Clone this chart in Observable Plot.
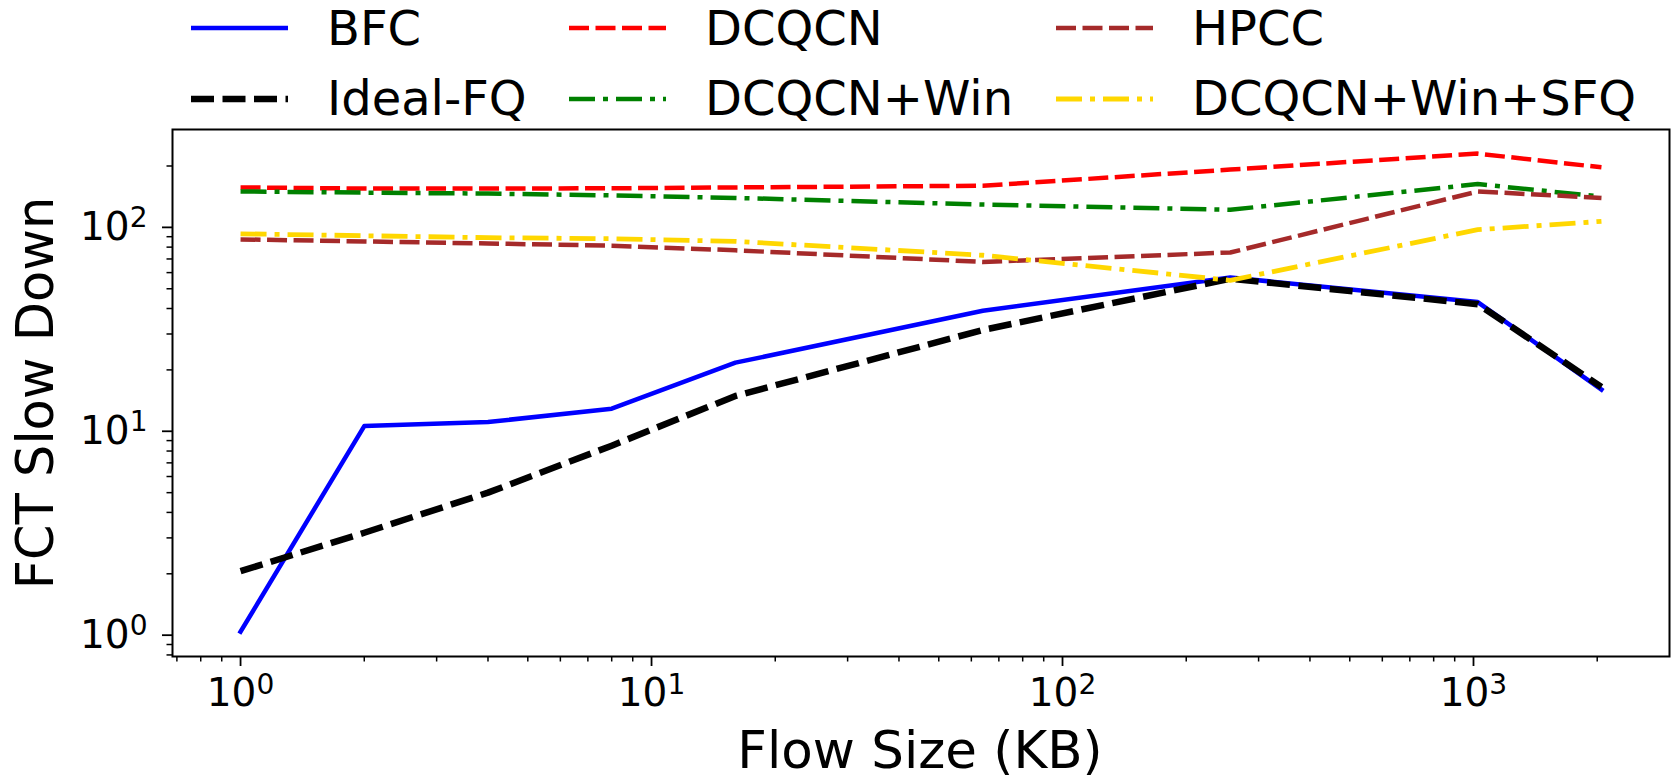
<!DOCTYPE html>
<html><head><meta charset="utf-8">
<script src="https://cdn.jsdelivr.net/npm/d3@7"></script>
<script src="https://cdn.jsdelivr.net/npm/@observablehq/plot@0.6"></script>
<style>
body{margin:0;background:#fff;font-family:"DejaVu Sans",sans-serif;}
#wrap{width:1675px;height:779px;position:relative;overflow:hidden;background:#fff}
#legend{height:127px}
#legend svg{display:block;overflow:visible}
#chart svg{display:block}
</style></head><body><div id="wrap"><div id="legend"></div><div id="chart"></div></div>
<script>
// ---- data ----
const flowSizes = [1, 2, 4, 8, 16, 64, 256, 1024, 2048];
const bfc         = [1.04, 10.6, 11.1, 12.9, 21.7, 39, 56.8, 43, 16];
const idealFQ     = [2.06, 3.18, 5.0, 8.5, 14.9, 31.4, 56, 42, 16.5];
const dcqcn       = [157, 155, 155, 155.5, 157, 160, 192, 230, 197];
const dcqcnWin    = [150, 148, 146.5, 143.5, 139.5, 129.5, 122, 163, 141.5];
const hpcc        = [87.3, 85.3, 83.4, 81.3, 77.2, 67.7, 75.3, 150, 139.5];
const dcqcnWinSfq = [93, 91, 89, 88, 85.4, 73, 55, 97.4, 107];

const seriesNames = ["BFC", "Ideal-FQ", "DCQCN", "DCQCN+Win", "HPCC", "DCQCN+Win+SFQ"];
const seriesValues = [bfc, idealFQ, dcqcn, dcqcnWin, hpcc, dcqcnWinSfq];

const xMajorTicks = [1, 10, 100, 1000];
const xTickLabels = ["10^0", "10^1", "10^2", "10^3"];
const xMinorTicks = [0.7, 0.8, 0.9, 2, 3, 4, 5, 6, 7, 8, 9, 20, 30, 40, 50, 60, 70, 80, 90,
                     200, 300, 400, 500, 600, 700, 800, 900, 2000];
const yMajorTicks = [1, 10, 100];
const yTickLabels = ["10^0", "10^1", "10^2"];
const yMinorTicks = [0.8, 0.9, 2, 3, 4, 5, 6, 7, 8, 9, 20, 30, 40, 50, 60, 70, 80, 90, 200];

const xLabel = "Flow Size (KB)";
const yLabel = "FCT Slow Down";

// ---- styles ----
const colors = ["#0000ff", "#000000", "#ff0000", "#008000", "#a52a2a", "#ffd700"];
const widths = [4.5, 6.5, 4.5, 4.5, 4.5, 4.8];
const dashes = [null, "23,8.5", "20,6.5", "26,8,5,8", "20,6.5", "26,8,5,8"];

const rows = seriesNames.flatMap((name, i) =>
  flowSizes.map((x, j) => ({series: name, x, y: seriesValues[i][j]})));

// ---- legend ----
const leg = d3.select("#legend").append("svg").attr("width", 1675).attr("height", 127);
const legCols = [191, 569, 1056];
const legRowsLine = [28, 99];
const legRowsText = [45, 115];
seriesNames.forEach((name, i) => {
  const col = Math.floor(i / 2), row = i % 2;
  const x0 = legCols[col];
  leg.append("line").attr("x1", x0).attr("x2", x0 + 97)
    .attr("y1", legRowsLine[row]).attr("y2", legRowsLine[row])
    .attr("stroke", colors[i]).attr("stroke-width", widths[i])
    .attr("stroke-dasharray", dashes[i]);
  leg.append("text").attr("x", x0 + 136).attr("y", legRowsText[row])
    .attr("font-family", "DejaVu Sans").attr("font-size", 48).attr("fill", "black")
    .text(name);
});

// ---- chart ----
const plot = Plot.plot({
  width: 1675, height: 652,
  marginTop: 2, marginLeft: 172, marginRight: 6, marginBottom: 123,
  style: {fontFamily: "DejaVu Sans", fontSize: "39px", color: "black", background: "white", overflow: "visible"},
  x: {type: "log", domain: [0.683, 2998.6]},
  y: {type: "log", domain: [0.786, 302]},
  marks: [
    ...seriesNames.map((name, i) => Plot.line(rows.filter(d => d.series === name), {
      x: "x", y: "y", stroke: colors[i], strokeWidth: widths[i],
      strokeDasharray: dashes[i] || undefined, strokeLinejoin: "round",
      strokeLinecap: i === 0 ? "square" : "butt"
    })),
    Plot.axisX(xMinorTicks, {tickSize: 5.5, strokeWidth: 1.5, tickFormat: () => "", label: null}),
    Plot.axisY(yMinorTicks, {tickSize: 5.5, strokeWidth: 1.5, tickFormat: () => "", label: null}),
    Plot.axisX(xMajorTicks, {tickSize: 10, tickPadding: 12, strokeWidth: 1.8, fontSize: 39,
      tickFormat: d => xTickLabels[xMajorTicks.indexOf(d)], label: null}),
    Plot.axisY(yMajorTicks, {tickSize: 10, tickPadding: 15, strokeWidth: 1.8, fontSize: 39,
      tickFormat: d => yTickLabels[yMajorTicks.indexOf(d)], label: null}),
    Plot.frame({stroke: "black", strokeWidth: 2})
  ]
});
document.getElementById("chart").appendChild(plot);

// superscripts for tick labels
d3.select(plot).selectAll("text").each(function() {
  const t = this.textContent;
  if (t.includes("^")) {
    const [base, exp] = t.split("^");
    const sel = d3.select(this);
    sel.text(null);
    sel.append("tspan").text(base);
    sel.append("tspan").attr("dy", "-0.45em").attr("font-size", "0.72em").text(exp);
  }
});

// axis titles (svg starts at page y = 127)
const svg = d3.select(plot);
svg.append("text").attr("x", 920).attr("y", 641).attr("text-anchor", "middle")
  .attr("font-family", "DejaVu Sans").attr("font-size", 51.5).attr("fill", "black").text(xLabel);
svg.append("text").attr("transform", "translate(53,266) rotate(-90)").attr("text-anchor", "middle")
  .attr("font-family", "DejaVu Sans").attr("font-size", 51).attr("fill", "black").text(yLabel);
</script></body></html>
